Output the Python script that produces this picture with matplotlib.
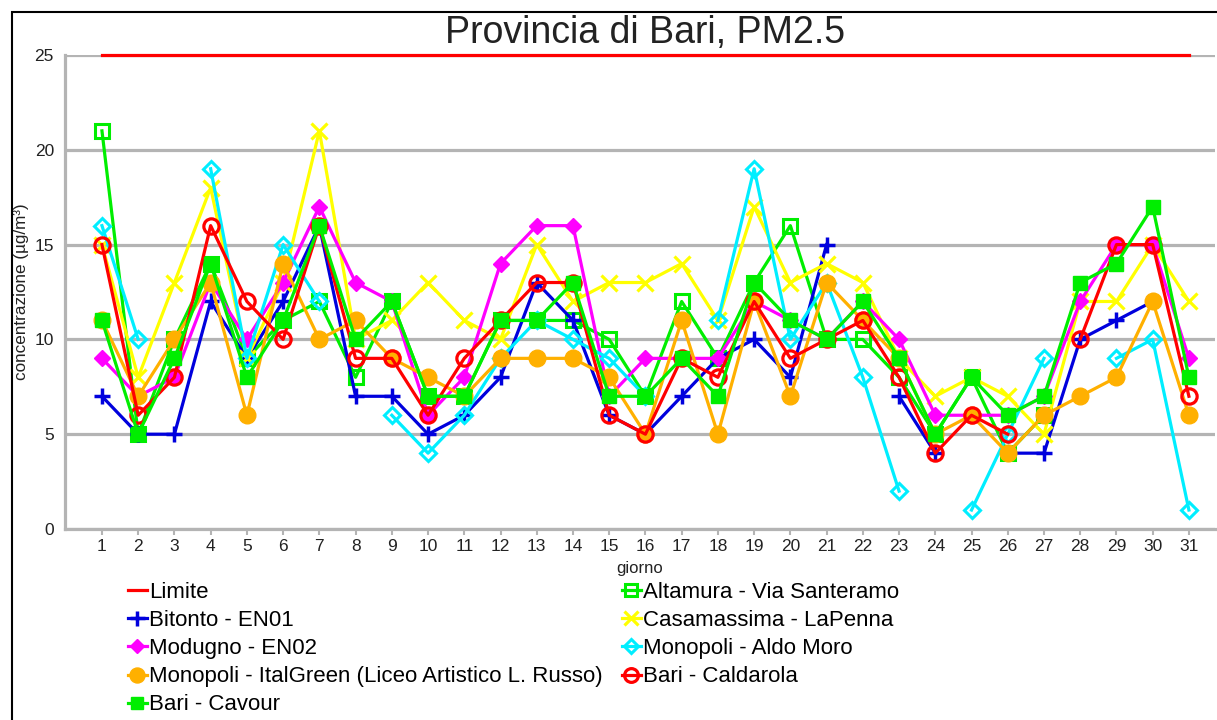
import numpy as np
import matplotlib
matplotlib.use("Agg")
import matplotlib.pyplot as plt
from matplotlib.patches import Rectangle

nan = np.nan
days = list(range(1, 32))
limite = 25

altamura = [21, 5, 10, 14, 9, 11, 12, 8, 12, 7, 7, 11, 11, 11, 10, 7, 12, 9, 13, 16,
            10, 10, 8, 5, 8, 4, 6, nan, nan, nan, nan]
bitonto = [7, 5, 5, 12, 9, 12, 16, 7, 7, 5, 6, 8, 13, 11, 6, 5, 7, 9, 10, 8,
           15, nan, 7, 4, nan, 4, 4, 10, 11, 12, nan]
casamassima = [15, 8, 13, 18, 9, 13, 21, 10, 11, 13, 11, 10, 15, 12, 13, 13, 14, 11, 17, 13,
               14, 13, 9, 7, 8, 7, 5, 12, 12, 15, 12]
modugno = [9, 7, 8, 13, 10, 13, 17, 13, 12, 6, 8, 14, 16, 16, 7, 9, 9, 9, 12, 11,
           10, 12, 10, 6, 6, 6, 7, 12, 15, 15, 9]
aldo_moro = [16, 10, nan, 19, 9, 15, 12, nan, 6, 4, 6, 9, 11, 10, 9, 7, nan, 11, 19, 10,
             13, 8, 2, nan, 1, 5, 9, nan, 9, 10, 1]
italgreen = [11, 7, 10, 13, 6, 14, 10, 11, 9, 8, 7, 9, 9, 9, 8, 5, 11, 5, 12, 7,
             13, 11, 9, 5, 6, 4, 6, 7, 8, 12, 6]
caldarola = [15, 6, 8, 16, 12, 10, 16, 9, 9, 6, 9, 11, 13, 13, 6, 5, 9, 8, 12, 9,
             10, 11, 8, 4, 6, 5, nan, 10, 15, 15, 7]
cavour = [11, 5, 9, 14, 8, 11, 16, 10, 12, 7, 7, 11, 11, 13, 7, 7, 9, 7, 13, 11,
          10, 12, 9, 5, 8, 6, 7, 13, 14, 17, 8]

RED = "#ff0000"
GREEN = "#00ee00"
BLUE = "#0000dd"
YELLOW = "#ffff00"
MAGENTA = "#ff00ff"
CYAN = "#00eeff"
ORANGE = "#ffb000"
GRID = "#b4b4b4"

plt.rcParams["font.family"] = ["Liberation Sans", "DejaVu Sans"]

fig = plt.figure(figsize=(12.17, 7.20), dpi=100)
ax = fig.add_axes([65 / 1217, 1 - 529 / 720, 1150 / 1217, 474 / 720])

lw = 2.3
h = {}
h["lim"], = ax.plot([days[0], days[-1]], [limite, limite], color=RED, lw=lw,
                    clip_on=False, label="Limite", zorder=3)
h["alt"], = ax.plot(days, altamura, color=GREEN, lw=lw, marker="s", ms=10, mew=2.2,
                    mfc="none", label="Altamura - Via Santeramo", zorder=3)
h["bit"], = ax.plot(days, bitonto, color=BLUE, lw=lw, marker="+", ms=12, mew=2.5,
                    label="Bitonto - EN01", zorder=3)
h["cas"], = ax.plot(days, casamassima, color=YELLOW, lw=lw, marker="x", ms=11, mew=2.3,
                    label="Casamassima - LaPenna", zorder=3)
h["mod"], = ax.plot(days, modugno, color=MAGENTA, lw=lw, marker="D", ms=8,
                    label="Modugno - EN02", zorder=3)
h["amo"], = ax.plot(days, aldo_moro, color=CYAN, lw=lw, marker="D", ms=8, mew=2.2,
                    mfc="none", label="Monopoli - Aldo Moro", zorder=3)
h["ita"], = ax.plot(days, italgreen, color=ORANGE, lw=lw, marker="o", ms=12,
                    label="Monopoli - ItalGreen (Liceo Artistico L. Russo)", zorder=3)
h["cal"], = ax.plot(days, caldarola, color=RED, lw=lw, marker="o", ms=11, mew=2.3,
                    mfc="none", label="Bari - Caldarola", zorder=3)
h["cav"], = ax.plot(days, cavour, color=GREEN, lw=lw, marker="s", ms=10,
                    label="Bari - Cavour", zorder=3)

ax.set_xlim(-0.02, 31.72)
ax.set_ylim(0, 25)
ax.set_xticks(days)
ax.set_yticks([0, 5, 10, 15, 20, 25])
ax.yaxis.grid(True, color=GRID, lw=2.3)
ax.set_axisbelow(True)
for s in ["top", "right"]:
    ax.spines[s].set_visible(False)
for s in ["left", "bottom"]:
    ax.spines[s].set_color(GRID)
    ax.spines[s].set_linewidth(2.3)
ax.tick_params(axis="x", colors=GRID, labelcolor="#222222", labelsize=12.5, length=4, width=1.5)
ax.tick_params(axis="y", length=0, labelcolor="#222222", labelsize=12.5, pad=8)

ax.set_xlabel("giorno", fontsize=12, color="#222222", labelpad=5)
ax.set_ylabel("concentrazione (µg/m³)", fontsize=12.3, color="#222222", labelpad=4)
fig.text(645 / 1217, 1 - 33 / 720, "Provincia di Bari, PM2.5", ha="center", va="center",
         fontsize=27, color="#222222")

order = ["lim", "bit", "mod", "ita", "cav", "alt", "cas", "amo", "cal"]
handles = [h[k] for k in order]
fig.legend(handles, [x.get_label() for x in handles], loc="upper left",
           bbox_to_anchor=(128 / 1217, 1 - 582 / 720), ncol=2, frameon=False,
           fontsize=16, handlelength=0.85, handletextpad=0.1, columnspacing=0.85,
           labelspacing=0.32, borderaxespad=0, borderpad=0, markerscale=0.9)

fig.patches.append(Rectangle((12 / 1217, -0.1), 1.2, 1 - 12 / 720 + 0.1,
                             transform=fig.transFigure, fill=False, ec="black", lw=1.5))

fig.savefig("out.png", dpi=100)
